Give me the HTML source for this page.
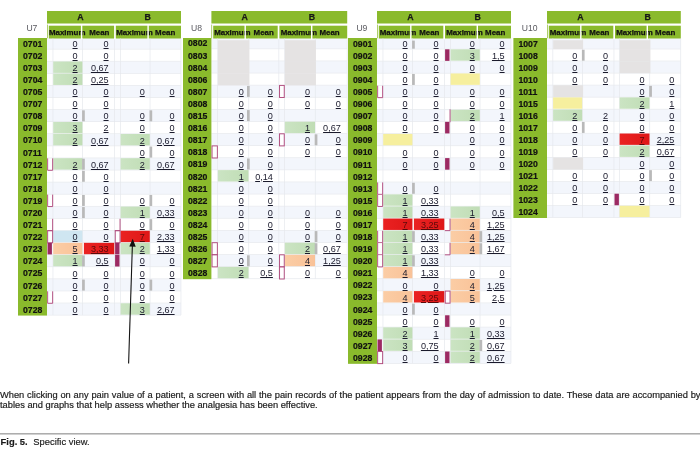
<!DOCTYPE html>
<html lang="en">
<head>
<meta charset="utf-8">
<title>Fig. 5. Specific view</title>
<style>
html,body{margin:0;padding:0;background:#fff;}
body{width:700px;height:449px;position:relative;overflow:hidden;font-family:"Liberation Sans",Arial,sans-serif;}
svg{position:absolute;left:0;top:0;filter:blur(0.3px);}
#fig,#cap,#lab{filter:blur(0.28px);}
#fig{position:absolute;left:0;top:0;width:700px;height:380px;}
#fig span{position:absolute;display:block;}
#fig .hd{-webkit-text-stroke:0.25px #111;font-weight:bold;font-size:8.8px;color:#1a1a1a;text-align:center;}
#fig .sh{-webkit-text-stroke:0.25px #111;font-weight:bold;font-size:7.9px;color:#111;white-space:nowrap;}
#fig .un{font-size:8.6px;color:#5a5a60;text-align:center;}
#fig .lb{-webkit-text-stroke:0.2px #111;font-weight:bold;font-size:8.7px;color:#111;white-space:nowrap;height:12.07px;line-height:12.67px;}
#fig .nm{font-size:9.1px;color:#1a1a2c;text-align:right;text-decoration:underline;text-decoration-thickness:0.85px;text-underline-offset:0.7px;height:12.07px;line-height:12.07px;white-space:nowrap;}
#fig .rd{color:#5a0a0a;}
#cap{-webkit-text-stroke:0.18px #1a1a1a;position:absolute;left:0;top:389.8px;width:700.5px;font-size:9.3px;line-height:10px;color:#1a1a1a;text-align:justify;}
#cap p{margin:0;}
#lab{-webkit-text-stroke:0.15px #1a1a1a;position:absolute;left:0.6px;top:436.2px;font-size:9.4px;line-height:11px;color:#1a1a1a;white-space:nowrap;}
#lab b{margin-right:3px;}
</style>
</head>
<body>
<svg width="700" height="449" viewBox="0 0 700 449">
<defs>
<linearGradient id="gg" x1="0" x2="1" y1="0" y2="0"><stop offset="0" stop-color="#cbe4c3"/><stop offset="1" stop-color="#c0ddb5"/></linearGradient>
<linearGradient id="gr" x1="0" x2="1" y1="0" y2="0"><stop offset="0" stop-color="#ea2222"/><stop offset="1" stop-color="#de1717"/></linearGradient>
<linearGradient id="go" x1="0" x2="1" y1="0" y2="0"><stop offset="0" stop-color="#fbcda5"/><stop offset="1" stop-color="#f9c298"/></linearGradient>
</defs>
<!-- U7 -->
<rect x="47.00" y="11.00" width="134.00" height="12.50" fill="#8aba2c"/>
<rect x="47.00" y="24.60" width="0.70" height="13.80" fill="#8aba2c"/>
<rect x="48.80" y="25.70" width="132.20" height="13.30" fill="#8aba2c"/>
<rect x="47.00" y="38.50" width="134.00" height="10.39" fill="#f3f6fc"/>
<rect x="47.00" y="61.58" width="134.00" height="11.49" fill="#f3f6fc"/>
<rect x="47.00" y="85.76" width="134.00" height="11.49" fill="#f3f6fc"/>
<rect x="47.00" y="109.94" width="134.00" height="11.49" fill="#f3f6fc"/>
<rect x="47.00" y="134.12" width="134.00" height="11.49" fill="#f3f6fc"/>
<rect x="47.00" y="158.30" width="134.00" height="11.49" fill="#f3f6fc"/>
<rect x="47.00" y="182.48" width="134.00" height="11.49" fill="#f3f6fc"/>
<rect x="47.00" y="206.66" width="134.00" height="11.49" fill="#f3f6fc"/>
<rect x="47.00" y="230.84" width="134.00" height="11.49" fill="#f3f6fc"/>
<rect x="47.00" y="255.02" width="134.00" height="11.49" fill="#f3f6fc"/>
<rect x="47.00" y="279.20" width="134.00" height="11.49" fill="#f3f6fc"/>
<rect x="47.00" y="303.38" width="134.00" height="11.49" fill="#f3f6fc"/>
<rect x="52.60" y="38.50" width="0.70" height="276.57" fill="#e5e8ed"/>
<rect x="82.30" y="38.50" width="0.70" height="276.57" fill="#e5e8ed"/>
<rect x="114.20" y="38.50" width="0.70" height="276.57" fill="#e5e8ed"/>
<rect x="120.00" y="38.50" width="0.70" height="276.57" fill="#e5e8ed"/>
<rect x="149.70" y="38.50" width="0.70" height="276.57" fill="#e5e8ed"/>
<rect x="180.60" y="38.50" width="0.70" height="276.57" fill="#e5e8ed"/>
<rect x="47.00" y="48.79" width="134.00" height="0.70" fill="#e5e8ed"/>
<rect x="47.00" y="60.88" width="134.00" height="0.70" fill="#e5e8ed"/>
<rect x="47.00" y="72.97" width="134.00" height="0.70" fill="#e5e8ed"/>
<rect x="47.00" y="85.06" width="134.00" height="0.70" fill="#e5e8ed"/>
<rect x="47.00" y="97.15" width="134.00" height="0.70" fill="#e5e8ed"/>
<rect x="47.00" y="109.24" width="134.00" height="0.70" fill="#e5e8ed"/>
<rect x="47.00" y="121.33" width="134.00" height="0.70" fill="#e5e8ed"/>
<rect x="47.00" y="133.42" width="134.00" height="0.70" fill="#e5e8ed"/>
<rect x="47.00" y="145.51" width="134.00" height="0.70" fill="#e5e8ed"/>
<rect x="47.00" y="157.60" width="134.00" height="0.70" fill="#e5e8ed"/>
<rect x="47.00" y="169.69" width="134.00" height="0.70" fill="#e5e8ed"/>
<rect x="47.00" y="181.78" width="134.00" height="0.70" fill="#e5e8ed"/>
<rect x="47.00" y="193.87" width="134.00" height="0.70" fill="#e5e8ed"/>
<rect x="47.00" y="205.96" width="134.00" height="0.70" fill="#e5e8ed"/>
<rect x="47.00" y="218.05" width="134.00" height="0.70" fill="#e5e8ed"/>
<rect x="47.00" y="230.14" width="134.00" height="0.70" fill="#e5e8ed"/>
<rect x="47.00" y="242.23" width="134.00" height="0.70" fill="#e5e8ed"/>
<rect x="47.00" y="254.32" width="134.00" height="0.70" fill="#e5e8ed"/>
<rect x="47.00" y="266.41" width="134.00" height="0.70" fill="#e5e8ed"/>
<rect x="47.00" y="278.50" width="134.00" height="0.70" fill="#e5e8ed"/>
<rect x="47.00" y="290.59" width="134.00" height="0.70" fill="#e5e8ed"/>
<rect x="47.00" y="302.68" width="134.00" height="0.70" fill="#e5e8ed"/>
<rect x="47.00" y="314.77" width="134.00" height="0.70" fill="#e5e8ed"/>
<rect x="18.00" y="38.00" width="29.00" height="277.57" fill="#8aba2c"/>
<rect x="53.20" y="61.48" width="29.20" height="11.39" fill="url(#gg)"/>
<rect x="53.20" y="73.57" width="29.20" height="11.39" fill="url(#gg)"/>
<rect x="82.10" y="110.34" width="2.70" height="10.99" fill="#b9b9b9"/>
<rect x="149.50" y="110.34" width="2.70" height="10.99" fill="#b9b9b9"/>
<rect x="53.20" y="121.93" width="29.20" height="11.39" fill="url(#gg)"/>
<rect x="53.20" y="134.02" width="29.20" height="11.39" fill="url(#gg)"/>
<rect x="120.60" y="134.02" width="29.20" height="11.39" fill="url(#gg)"/>
<rect x="149.50" y="146.61" width="2.70" height="10.99" fill="#b9b9b9"/>
<rect x="53.20" y="158.20" width="29.20" height="11.39" fill="url(#gg)"/>
<rect x="120.60" y="158.20" width="29.20" height="11.39" fill="url(#gg)"/>
<rect x="82.10" y="158.70" width="2.70" height="10.99" fill="#b9b9b9"/>
<rect x="47.70" y="158.70" width="4.90" height="11.09" fill="#fff"/>
<path d="M47.65,158.35 V170.29 H52.65 V158.35" stroke="#b04a7c" stroke-width="0.95" fill="none"/>
<rect x="82.10" y="170.79" width="2.70" height="10.99" fill="#b9b9b9"/>
<rect x="82.10" y="194.97" width="2.70" height="10.99" fill="#b9b9b9"/>
<rect x="149.50" y="194.97" width="2.70" height="10.99" fill="#b9b9b9"/>
<rect x="47.70" y="194.97" width="4.90" height="11.09" fill="#fff"/>
<path d="M47.65,194.62 V206.56 H52.65 V194.62" stroke="#b04a7c" stroke-width="0.95" fill="none"/>
<rect x="120.60" y="206.56" width="29.20" height="11.39" fill="url(#gg)"/>
<rect x="82.10" y="207.06" width="2.70" height="10.99" fill="#b9b9b9"/>
<rect x="149.50" y="219.15" width="2.70" height="10.99" fill="#b9b9b9"/>
<rect x="47.70" y="219.15" width="4.90" height="11.09" fill="#fff"/>
<path d="M52.65,218.80 V230.74 H47.20" stroke="#b04a7c" stroke-width="0.95" fill="none"/>
<rect x="115.30" y="219.15" width="4.70" height="11.09" fill="#fff"/>
<path d="M120.05,218.80 V230.74 H114.80" stroke="#b04a7c" stroke-width="0.95" fill="none"/>
<rect x="53.20" y="230.74" width="29.20" height="11.39" fill="#cfe6f1"/>
<rect x="120.60" y="230.74" width="29.20" height="11.39" fill="url(#gr)"/>
<rect x="47.70" y="231.24" width="4.90" height="11.09" fill="#fff"/>
<rect x="47.65" y="230.74" width="5.00" height="12.09" stroke="#b04a7c" stroke-width="0.95" fill="none"/>
<rect x="115.30" y="231.24" width="4.70" height="11.09" fill="#fff"/>
<rect x="115.25" y="230.74" width="4.80" height="12.09" stroke="#b04a7c" stroke-width="0.95" fill="none"/>
<rect x="53.20" y="242.83" width="29.20" height="11.39" fill="url(#go)"/>
<rect x="83.90" y="242.83" width="30.40" height="11.39" fill="url(#gr)"/>
<rect x="120.60" y="242.83" width="29.20" height="11.39" fill="url(#gg)"/>
<rect x="47.50" y="242.83" width="4.40" height="11.59" fill="#9c2a62"/>
<rect x="115.10" y="242.83" width="4.40" height="11.59" fill="#9c2a62"/>
<rect x="53.20" y="254.92" width="29.20" height="11.39" fill="url(#gg)"/>
<rect x="82.10" y="255.42" width="2.70" height="10.99" fill="#b9b9b9"/>
<rect x="115.10" y="254.92" width="4.40" height="11.59" fill="#9c2a62"/>
<rect x="82.10" y="279.60" width="2.70" height="10.99" fill="#b9b9b9"/>
<rect x="149.50" y="279.60" width="2.70" height="10.99" fill="#b9b9b9"/>
<rect x="47.70" y="291.69" width="4.90" height="11.09" fill="#fff"/>
<path d="M47.65,291.34 V303.28 H52.65 V291.34" stroke="#b04a7c" stroke-width="0.95" fill="none"/>
<rect x="120.60" y="303.28" width="29.20" height="11.39" fill="url(#gg)"/>
<!-- U8 -->
<rect x="211.40" y="11.00" width="135.80" height="12.50" fill="#8aba2c"/>
<rect x="211.40" y="24.60" width="0.70" height="13.80" fill="#8aba2c"/>
<rect x="213.20" y="25.70" width="134.00" height="13.30" fill="#8aba2c"/>
<rect x="211.40" y="38.50" width="135.80" height="10.10" fill="#f3f6fc"/>
<rect x="211.40" y="61.30" width="135.80" height="11.50" fill="#f3f6fc"/>
<rect x="211.40" y="85.50" width="135.80" height="11.50" fill="#f3f6fc"/>
<rect x="211.40" y="109.70" width="135.80" height="11.50" fill="#f3f6fc"/>
<rect x="211.40" y="133.90" width="135.80" height="11.50" fill="#f3f6fc"/>
<rect x="211.40" y="158.10" width="135.80" height="11.50" fill="#f3f6fc"/>
<rect x="211.40" y="182.30" width="135.80" height="11.50" fill="#f3f6fc"/>
<rect x="211.40" y="206.50" width="135.80" height="11.50" fill="#f3f6fc"/>
<rect x="211.40" y="230.70" width="135.80" height="11.50" fill="#f3f6fc"/>
<rect x="211.40" y="254.90" width="135.80" height="11.50" fill="#f3f6fc"/>
<rect x="217.30" y="38.50" width="0.70" height="240.20" fill="#e5e8ed"/>
<rect x="248.40" y="38.50" width="0.70" height="240.20" fill="#e5e8ed"/>
<rect x="278.50" y="38.50" width="0.70" height="240.20" fill="#e5e8ed"/>
<rect x="284.20" y="38.50" width="0.70" height="240.20" fill="#e5e8ed"/>
<rect x="314.90" y="38.50" width="0.70" height="240.20" fill="#e5e8ed"/>
<rect x="346.80" y="38.50" width="0.70" height="240.20" fill="#e5e8ed"/>
<rect x="211.40" y="48.50" width="135.80" height="0.70" fill="#e5e8ed"/>
<rect x="211.40" y="60.60" width="135.80" height="0.70" fill="#e5e8ed"/>
<rect x="211.40" y="72.70" width="135.80" height="0.70" fill="#e5e8ed"/>
<rect x="211.40" y="84.80" width="135.80" height="0.70" fill="#e5e8ed"/>
<rect x="211.40" y="96.90" width="135.80" height="0.70" fill="#e5e8ed"/>
<rect x="211.40" y="109.00" width="135.80" height="0.70" fill="#e5e8ed"/>
<rect x="211.40" y="121.10" width="135.80" height="0.70" fill="#e5e8ed"/>
<rect x="211.40" y="133.20" width="135.80" height="0.70" fill="#e5e8ed"/>
<rect x="211.40" y="145.30" width="135.80" height="0.70" fill="#e5e8ed"/>
<rect x="211.40" y="157.40" width="135.80" height="0.70" fill="#e5e8ed"/>
<rect x="211.40" y="169.50" width="135.80" height="0.70" fill="#e5e8ed"/>
<rect x="211.40" y="181.60" width="135.80" height="0.70" fill="#e5e8ed"/>
<rect x="211.40" y="193.70" width="135.80" height="0.70" fill="#e5e8ed"/>
<rect x="211.40" y="205.80" width="135.80" height="0.70" fill="#e5e8ed"/>
<rect x="211.40" y="217.90" width="135.80" height="0.70" fill="#e5e8ed"/>
<rect x="211.40" y="230.00" width="135.80" height="0.70" fill="#e5e8ed"/>
<rect x="211.40" y="242.10" width="135.80" height="0.70" fill="#e5e8ed"/>
<rect x="211.40" y="254.20" width="135.80" height="0.70" fill="#e5e8ed"/>
<rect x="211.40" y="266.30" width="135.80" height="0.70" fill="#e5e8ed"/>
<rect x="211.40" y="278.40" width="135.80" height="0.70" fill="#e5e8ed"/>
<rect x="183.00" y="38.00" width="28.40" height="241.20" fill="#8aba2c"/>
<rect x="218.00" y="40.20" width="31.40" height="8.80" fill="#e5e3e3"/>
<rect x="284.90" y="40.20" width="31.00" height="8.80" fill="#e5e3e3"/>
<rect x="218.00" y="49.00" width="31.40" height="12.10" fill="#e5e3e3"/>
<rect x="284.90" y="49.00" width="31.00" height="12.10" fill="#e5e3e3"/>
<rect x="218.00" y="61.10" width="31.40" height="12.10" fill="#e5e3e3"/>
<rect x="284.90" y="61.10" width="31.00" height="12.10" fill="#e5e3e3"/>
<rect x="218.00" y="73.20" width="31.40" height="12.10" fill="#e5e3e3"/>
<rect x="284.90" y="73.20" width="31.00" height="12.10" fill="#e5e3e3"/>
<rect x="247.00" y="85.90" width="2.70" height="11.00" fill="#b9b9b9"/>
<rect x="279.60" y="85.90" width="4.60" height="11.10" fill="#fff"/>
<rect x="279.55" y="85.40" width="4.70" height="12.10" stroke="#b04a7c" stroke-width="0.95" fill="none"/>
<rect x="247.00" y="110.10" width="2.70" height="11.00" fill="#b9b9b9"/>
<rect x="284.80" y="121.70" width="30.20" height="11.40" fill="url(#gg)"/>
<rect x="314.70" y="134.30" width="2.70" height="11.00" fill="#b9b9b9"/>
<rect x="279.60" y="134.30" width="4.60" height="11.10" fill="#fff"/>
<rect x="279.55" y="133.80" width="4.70" height="12.10" stroke="#b04a7c" stroke-width="0.95" fill="none"/>
<rect x="212.10" y="146.40" width="5.20" height="11.10" fill="#fff"/>
<rect x="212.05" y="145.90" width="5.30" height="12.10" stroke="#b04a7c" stroke-width="0.95" fill="none"/>
<rect x="247.00" y="158.50" width="2.70" height="11.00" fill="#b9b9b9"/>
<rect x="217.90" y="170.10" width="30.60" height="11.40" fill="url(#gg)"/>
<rect x="314.70" y="231.10" width="2.70" height="11.00" fill="#b9b9b9"/>
<rect x="284.80" y="242.70" width="30.20" height="11.40" fill="url(#gg)"/>
<rect x="314.70" y="243.20" width="2.70" height="11.00" fill="#b9b9b9"/>
<rect x="212.10" y="243.20" width="5.20" height="11.10" fill="#fff"/>
<rect x="212.05" y="242.70" width="5.30" height="12.10" stroke="#b04a7c" stroke-width="0.95" fill="none"/>
<rect x="284.80" y="254.80" width="30.20" height="11.40" fill="url(#go)"/>
<rect x="247.00" y="255.30" width="2.70" height="11.00" fill="#b9b9b9"/>
<rect x="212.10" y="255.30" width="5.20" height="11.10" fill="#fff"/>
<rect x="212.05" y="254.80" width="5.30" height="12.10" stroke="#b04a7c" stroke-width="0.95" fill="none"/>
<rect x="279.60" y="255.30" width="4.60" height="11.10" fill="#fff"/>
<rect x="279.55" y="254.80" width="4.70" height="12.10" stroke="#b04a7c" stroke-width="0.95" fill="none"/>
<rect x="217.90" y="266.90" width="30.60" height="11.40" fill="url(#gg)"/>
<rect x="279.60" y="267.40" width="4.60" height="11.10" fill="#fff"/>
<rect x="279.55" y="266.90" width="4.70" height="12.10" stroke="#b04a7c" stroke-width="0.95" fill="none"/>
<!-- U9 -->
<rect x="377.00" y="11.00" width="134.00" height="12.50" fill="#8aba2c"/>
<rect x="377.00" y="24.60" width="0.70" height="13.80" fill="#8aba2c"/>
<rect x="378.80" y="25.70" width="132.20" height="13.30" fill="#8aba2c"/>
<rect x="377.00" y="38.50" width="134.00" height="10.29" fill="#f3f6fc"/>
<rect x="377.00" y="61.48" width="134.00" height="11.49" fill="#f3f6fc"/>
<rect x="377.00" y="85.66" width="134.00" height="11.49" fill="#f3f6fc"/>
<rect x="377.00" y="109.84" width="134.00" height="11.49" fill="#f3f6fc"/>
<rect x="377.00" y="134.02" width="134.00" height="11.49" fill="#f3f6fc"/>
<rect x="377.00" y="158.20" width="134.00" height="11.49" fill="#f3f6fc"/>
<rect x="377.00" y="182.38" width="134.00" height="11.49" fill="#f3f6fc"/>
<rect x="377.00" y="206.56" width="134.00" height="11.49" fill="#f3f6fc"/>
<rect x="377.00" y="230.74" width="134.00" height="11.49" fill="#f3f6fc"/>
<rect x="377.00" y="254.92" width="134.00" height="11.49" fill="#f3f6fc"/>
<rect x="377.00" y="279.10" width="134.00" height="11.49" fill="#f3f6fc"/>
<rect x="377.00" y="303.28" width="134.00" height="11.49" fill="#f3f6fc"/>
<rect x="377.00" y="327.46" width="134.00" height="11.49" fill="#f3f6fc"/>
<rect x="377.00" y="351.64" width="134.00" height="11.49" fill="#f3f6fc"/>
<rect x="382.60" y="38.50" width="0.70" height="324.83" fill="#e5e8ed"/>
<rect x="412.30" y="38.50" width="0.70" height="324.83" fill="#e5e8ed"/>
<rect x="444.20" y="38.50" width="0.70" height="324.83" fill="#e5e8ed"/>
<rect x="450.00" y="38.50" width="0.70" height="324.83" fill="#e5e8ed"/>
<rect x="479.70" y="38.50" width="0.70" height="324.83" fill="#e5e8ed"/>
<rect x="510.60" y="38.50" width="0.70" height="324.83" fill="#e5e8ed"/>
<rect x="377.00" y="48.69" width="134.00" height="0.70" fill="#e5e8ed"/>
<rect x="377.00" y="60.78" width="134.00" height="0.70" fill="#e5e8ed"/>
<rect x="377.00" y="72.87" width="134.00" height="0.70" fill="#e5e8ed"/>
<rect x="377.00" y="84.96" width="134.00" height="0.70" fill="#e5e8ed"/>
<rect x="377.00" y="97.05" width="134.00" height="0.70" fill="#e5e8ed"/>
<rect x="377.00" y="109.14" width="134.00" height="0.70" fill="#e5e8ed"/>
<rect x="377.00" y="121.23" width="134.00" height="0.70" fill="#e5e8ed"/>
<rect x="377.00" y="133.32" width="134.00" height="0.70" fill="#e5e8ed"/>
<rect x="377.00" y="145.41" width="134.00" height="0.70" fill="#e5e8ed"/>
<rect x="377.00" y="157.50" width="134.00" height="0.70" fill="#e5e8ed"/>
<rect x="377.00" y="169.59" width="134.00" height="0.70" fill="#e5e8ed"/>
<rect x="377.00" y="181.68" width="134.00" height="0.70" fill="#e5e8ed"/>
<rect x="377.00" y="193.77" width="134.00" height="0.70" fill="#e5e8ed"/>
<rect x="377.00" y="205.86" width="134.00" height="0.70" fill="#e5e8ed"/>
<rect x="377.00" y="217.95" width="134.00" height="0.70" fill="#e5e8ed"/>
<rect x="377.00" y="230.04" width="134.00" height="0.70" fill="#e5e8ed"/>
<rect x="377.00" y="242.13" width="134.00" height="0.70" fill="#e5e8ed"/>
<rect x="377.00" y="254.22" width="134.00" height="0.70" fill="#e5e8ed"/>
<rect x="377.00" y="266.31" width="134.00" height="0.70" fill="#e5e8ed"/>
<rect x="377.00" y="278.40" width="134.00" height="0.70" fill="#e5e8ed"/>
<rect x="377.00" y="290.49" width="134.00" height="0.70" fill="#e5e8ed"/>
<rect x="377.00" y="302.58" width="134.00" height="0.70" fill="#e5e8ed"/>
<rect x="377.00" y="314.67" width="134.00" height="0.70" fill="#e5e8ed"/>
<rect x="377.00" y="326.76" width="134.00" height="0.70" fill="#e5e8ed"/>
<rect x="377.00" y="338.85" width="134.00" height="0.70" fill="#e5e8ed"/>
<rect x="377.00" y="350.94" width="134.00" height="0.70" fill="#e5e8ed"/>
<rect x="377.00" y="363.03" width="134.00" height="0.70" fill="#e5e8ed"/>
<rect x="348.00" y="38.00" width="29.00" height="325.83" fill="#8aba2c"/>
<rect x="412.10" y="40.60" width="2.70" height="8.09" fill="#b9b9b9"/>
<rect x="450.60" y="49.29" width="29.20" height="11.39" fill="url(#gg)"/>
<rect x="445.10" y="49.29" width="4.40" height="11.59" fill="#9c2a62"/>
<rect x="450.60" y="73.47" width="29.20" height="11.39" fill="#f6ef9e"/>
<rect x="412.10" y="73.97" width="2.70" height="10.99" fill="#b9b9b9"/>
<rect x="377.70" y="86.06" width="4.90" height="11.09" fill="#fff"/>
<path d="M377.65,85.71 V97.65 H382.65 V85.71" stroke="#b04a7c" stroke-width="0.95" fill="none"/>
<rect x="450.60" y="109.74" width="29.20" height="11.39" fill="url(#gg)"/>
<rect x="445.30" y="110.24" width="4.70" height="11.09" fill="#fff"/>
<path d="M450.05,109.29 V122.28" stroke="#b04a7c" stroke-width="0.95" fill="none"/>
<rect x="445.10" y="121.83" width="4.40" height="11.59" fill="#9c2a62"/>
<rect x="383.20" y="133.92" width="29.20" height="11.39" fill="#f6ef9e"/>
<rect x="445.10" y="158.10" width="4.40" height="11.59" fill="#9c2a62"/>
<rect x="412.10" y="182.78" width="2.70" height="10.99" fill="#b9b9b9"/>
<rect x="377.70" y="182.78" width="4.90" height="11.09" fill="#fff"/>
<path d="M377.65,182.43 V194.37 H382.65 V182.43" stroke="#b04a7c" stroke-width="0.95" fill="none"/>
<rect x="383.20" y="194.37" width="29.20" height="11.39" fill="url(#gg)"/>
<rect x="377.70" y="194.87" width="4.90" height="11.09" fill="#fff"/>
<path d="M377.65,194.52 V206.46 H382.65 V194.52" stroke="#b04a7c" stroke-width="0.95" fill="none"/>
<rect x="383.20" y="206.46" width="29.20" height="11.39" fill="url(#gg)"/>
<rect x="450.60" y="206.46" width="29.20" height="11.39" fill="url(#gg)"/>
<rect x="383.20" y="218.55" width="29.20" height="11.39" fill="url(#gr)"/>
<rect x="413.90" y="218.55" width="30.40" height="11.39" fill="url(#gr)"/>
<rect x="450.60" y="218.55" width="29.20" height="11.39" fill="url(#go)"/>
<rect x="445.30" y="219.05" width="4.70" height="11.09" fill="#fff"/>
<path d="M450.05,218.70 V230.64 H444.80" stroke="#b04a7c" stroke-width="0.95" fill="none"/>
<rect x="383.20" y="230.64" width="29.20" height="11.39" fill="url(#gg)"/>
<rect x="450.60" y="230.64" width="29.20" height="11.39" fill="url(#go)"/>
<rect x="412.10" y="231.14" width="2.70" height="10.99" fill="#b9b9b9"/>
<rect x="479.50" y="231.14" width="2.70" height="10.99" fill="#b9b9b9"/>
<rect x="377.70" y="231.14" width="4.90" height="11.09" fill="#fff"/>
<path d="M377.65,230.79 V242.73 H382.65 V230.79" stroke="#b04a7c" stroke-width="0.95" fill="none"/>
<rect x="383.20" y="242.73" width="29.20" height="11.39" fill="url(#gg)"/>
<rect x="450.60" y="242.73" width="29.20" height="11.39" fill="url(#go)"/>
<rect x="479.50" y="243.23" width="2.70" height="10.99" fill="#b9b9b9"/>
<rect x="377.70" y="243.23" width="4.90" height="11.09" fill="#fff"/>
<path d="M377.65,242.88 V254.82 H382.65 V242.88" stroke="#b04a7c" stroke-width="0.95" fill="none"/>
<rect x="445.30" y="243.23" width="4.70" height="11.09" fill="#fff"/>
<path d="M450.05,242.88 V254.82 H444.80" stroke="#b04a7c" stroke-width="0.95" fill="none"/>
<rect x="383.20" y="254.82" width="29.20" height="11.39" fill="url(#gg)"/>
<rect x="412.10" y="255.32" width="2.70" height="10.99" fill="#b9b9b9"/>
<rect x="377.70" y="255.32" width="4.90" height="11.09" fill="#fff"/>
<path d="M377.65,254.97 V266.91 H382.65 V254.97" stroke="#b04a7c" stroke-width="0.95" fill="none"/>
<rect x="383.20" y="266.91" width="29.20" height="11.39" fill="url(#go)"/>
<rect x="450.60" y="279.00" width="29.20" height="11.39" fill="url(#go)"/>
<rect x="383.20" y="291.09" width="29.20" height="11.39" fill="url(#go)"/>
<rect x="413.90" y="291.09" width="30.40" height="11.39" fill="url(#gr)"/>
<rect x="450.60" y="291.09" width="29.20" height="11.39" fill="url(#go)"/>
<rect x="445.30" y="291.59" width="4.70" height="11.09" fill="#fff"/>
<rect x="445.25" y="291.09" width="4.80" height="12.09" stroke="#b04a7c" stroke-width="0.95" fill="none"/>
<rect x="412.10" y="303.68" width="2.70" height="10.99" fill="#b9b9b9"/>
<rect x="445.10" y="315.27" width="4.40" height="11.59" fill="#9c2a62"/>
<rect x="383.20" y="327.36" width="29.20" height="11.39" fill="url(#gg)"/>
<rect x="450.60" y="327.36" width="29.20" height="11.39" fill="url(#gg)"/>
<rect x="383.20" y="339.45" width="29.20" height="11.39" fill="url(#gg)"/>
<rect x="450.60" y="339.45" width="29.20" height="11.39" fill="url(#gg)"/>
<rect x="479.50" y="339.95" width="2.70" height="10.99" fill="#b9b9b9"/>
<rect x="377.50" y="339.45" width="4.40" height="11.59" fill="#9c2a62"/>
<rect x="450.60" y="351.54" width="29.20" height="11.39" fill="url(#gg)"/>
<rect x="377.70" y="352.04" width="4.90" height="11.09" fill="#fff"/>
<rect x="377.65" y="351.54" width="5.00" height="12.09" stroke="#b04a7c" stroke-width="0.95" fill="none"/>
<rect x="445.10" y="351.54" width="4.40" height="11.59" fill="#9c2a62"/>
<!-- U10 -->
<rect x="547.00" y="11.00" width="133.80" height="12.50" fill="#8aba2c"/>
<rect x="547.00" y="24.60" width="0.70" height="13.80" fill="#8aba2c"/>
<rect x="548.80" y="25.70" width="132.00" height="13.30" fill="#8aba2c"/>
<rect x="547.00" y="38.50" width="133.80" height="10.24" fill="#f3f6fc"/>
<rect x="547.00" y="61.38" width="133.80" height="11.44" fill="#f3f6fc"/>
<rect x="547.00" y="85.46" width="133.80" height="11.44" fill="#f3f6fc"/>
<rect x="547.00" y="109.54" width="133.80" height="11.44" fill="#f3f6fc"/>
<rect x="547.00" y="133.62" width="133.80" height="11.44" fill="#f3f6fc"/>
<rect x="547.00" y="157.70" width="133.80" height="11.44" fill="#f3f6fc"/>
<rect x="547.00" y="181.78" width="133.80" height="11.44" fill="#f3f6fc"/>
<rect x="547.00" y="205.86" width="133.80" height="11.44" fill="#f3f6fc"/>
<rect x="552.50" y="38.50" width="0.70" height="179.00" fill="#e5e8ed"/>
<rect x="582.10" y="38.50" width="0.70" height="179.00" fill="#e5e8ed"/>
<rect x="613.60" y="38.50" width="0.70" height="179.00" fill="#e5e8ed"/>
<rect x="619.00" y="38.50" width="0.70" height="179.00" fill="#e5e8ed"/>
<rect x="649.40" y="38.50" width="0.70" height="179.00" fill="#e5e8ed"/>
<rect x="680.40" y="38.50" width="0.70" height="179.00" fill="#e5e8ed"/>
<rect x="547.00" y="48.64" width="133.80" height="0.70" fill="#e5e8ed"/>
<rect x="547.00" y="60.68" width="133.80" height="0.70" fill="#e5e8ed"/>
<rect x="547.00" y="72.72" width="133.80" height="0.70" fill="#e5e8ed"/>
<rect x="547.00" y="84.76" width="133.80" height="0.70" fill="#e5e8ed"/>
<rect x="547.00" y="96.80" width="133.80" height="0.70" fill="#e5e8ed"/>
<rect x="547.00" y="108.84" width="133.80" height="0.70" fill="#e5e8ed"/>
<rect x="547.00" y="120.88" width="133.80" height="0.70" fill="#e5e8ed"/>
<rect x="547.00" y="132.92" width="133.80" height="0.70" fill="#e5e8ed"/>
<rect x="547.00" y="144.96" width="133.80" height="0.70" fill="#e5e8ed"/>
<rect x="547.00" y="157.00" width="133.80" height="0.70" fill="#e5e8ed"/>
<rect x="547.00" y="169.04" width="133.80" height="0.70" fill="#e5e8ed"/>
<rect x="547.00" y="181.08" width="133.80" height="0.70" fill="#e5e8ed"/>
<rect x="547.00" y="193.12" width="133.80" height="0.70" fill="#e5e8ed"/>
<rect x="547.00" y="205.16" width="133.80" height="0.70" fill="#e5e8ed"/>
<rect x="547.00" y="217.20" width="133.80" height="0.70" fill="#e5e8ed"/>
<rect x="513.40" y="38.00" width="33.60" height="180.00" fill="#8aba2c"/>
<rect x="553.20" y="40.20" width="29.90" height="8.94" fill="#e5e3e3"/>
<rect x="619.70" y="40.20" width="30.70" height="8.94" fill="#e5e3e3"/>
<rect x="619.70" y="49.14" width="30.70" height="12.04" fill="#e5e3e3"/>
<rect x="581.90" y="49.74" width="2.70" height="10.94" fill="#b9b9b9"/>
<rect x="619.70" y="61.18" width="30.70" height="12.04" fill="#e5e3e3"/>
<rect x="553.20" y="85.26" width="29.90" height="12.04" fill="#e5e3e3"/>
<rect x="649.20" y="85.86" width="2.70" height="10.94" fill="#b9b9b9"/>
<rect x="553.10" y="97.40" width="29.10" height="11.34" fill="#f6ef9e"/>
<rect x="619.60" y="97.40" width="29.90" height="11.34" fill="url(#gg)"/>
<rect x="553.10" y="109.44" width="29.10" height="11.34" fill="url(#gg)"/>
<rect x="581.90" y="121.98" width="2.70" height="10.94" fill="#b9b9b9"/>
<rect x="619.60" y="133.52" width="29.90" height="11.34" fill="url(#gr)"/>
<rect x="619.60" y="145.56" width="29.90" height="11.34" fill="url(#gg)"/>
<rect x="553.20" y="157.50" width="29.90" height="12.04" fill="#e5e3e3"/>
<rect x="649.20" y="170.14" width="2.70" height="10.94" fill="#b9b9b9"/>
<rect x="614.50" y="193.72" width="4.40" height="11.54" fill="#9c2a62"/>
<rect x="619.60" y="205.76" width="29.90" height="11.34" fill="#f6ef9e"/>
</svg>
<div id="fig">
<span class="hd" style="left:70.40px;top:11.4px;width:20px;height:12px;line-height:12.8px">A</span>
<span class="hd" style="left:137.60px;top:11.4px;width:20px;height:12px;line-height:12.8px">B</span>
<span class="sh" style="left:49.00px;top:25.4px;height:13px;line-height:15.6px">Maximum</span>
<span class="sh" style="left:84.30px;top:25.4px;width:30px;height:13px;line-height:15.6px;text-align:center">Mean</span>
<span class="sh" style="left:116.30px;top:25.4px;height:13px;line-height:15.6px">Maximum</span>
<span class="sh" style="left:150.20px;top:25.4px;width:30px;height:13px;line-height:15.6px;text-align:center">Mean</span>
<span class="un" style="left:17.40px;top:20.5px;width:29.00px;height:14px;line-height:14px">U7</span>
<span class="lb" style="left:23.00px;top:37.70px">0701</span>
<span class="nm" style="left:53.00px;top:37.80px;width:24.60px">0</span>
<span class="nm" style="left:82.70px;top:37.80px;width:25.90px">0</span>
<span class="lb" style="left:23.00px;top:49.79px">0702</span>
<span class="nm" style="left:53.00px;top:49.89px;width:24.60px">0</span>
<span class="nm" style="left:82.70px;top:49.89px;width:25.90px">0</span>
<span class="lb" style="left:23.00px;top:61.88px">0703</span>
<span class="nm" style="left:53.00px;top:61.98px;width:24.60px">2</span>
<span class="nm" style="left:82.70px;top:61.98px;width:25.90px">0,67</span>
<span class="lb" style="left:23.00px;top:73.97px">0704</span>
<span class="nm" style="left:53.00px;top:74.07px;width:24.60px">2</span>
<span class="nm" style="left:82.70px;top:74.07px;width:25.90px">0,25</span>
<span class="lb" style="left:23.00px;top:86.06px">0705</span>
<span class="nm" style="left:53.00px;top:86.16px;width:24.60px">0</span>
<span class="nm" style="left:82.70px;top:86.16px;width:25.90px">0</span>
<span class="nm" style="left:120.40px;top:86.16px;width:24.40px">0</span>
<span class="nm" style="left:150.10px;top:86.16px;width:24.50px">0</span>
<span class="lb" style="left:23.00px;top:98.15px">0707</span>
<span class="nm" style="left:53.00px;top:98.25px;width:24.60px">0</span>
<span class="nm" style="left:82.70px;top:98.25px;width:25.90px">0</span>
<span class="lb" style="left:23.00px;top:110.24px">0708</span>
<span class="nm" style="left:53.00px;top:110.34px;width:24.60px">0</span>
<span class="nm" style="left:82.70px;top:110.34px;width:25.90px">0</span>
<span class="nm" style="left:120.40px;top:110.34px;width:24.40px">0</span>
<span class="nm" style="left:150.10px;top:110.34px;width:24.50px">0</span>
<span class="lb" style="left:23.00px;top:122.33px">0709</span>
<span class="nm" style="left:53.00px;top:122.43px;width:24.60px">3</span>
<span class="nm" style="left:82.70px;top:122.43px;width:25.90px">2</span>
<span class="nm" style="left:120.40px;top:122.43px;width:24.40px">0</span>
<span class="nm" style="left:150.10px;top:122.43px;width:24.50px">0</span>
<span class="lb" style="left:23.00px;top:134.42px">0710</span>
<span class="nm" style="left:53.00px;top:134.52px;width:24.60px">2</span>
<span class="nm" style="left:82.70px;top:134.52px;width:25.90px">0,67</span>
<span class="nm" style="left:120.40px;top:134.52px;width:24.40px">2</span>
<span class="nm" style="left:150.10px;top:134.52px;width:24.50px">0,67</span>
<span class="lb" style="left:23.00px;top:146.51px">0711</span>
<span class="nm" style="left:120.40px;top:146.61px;width:24.40px">0</span>
<span class="nm" style="left:150.10px;top:146.61px;width:24.50px">0</span>
<span class="lb" style="left:23.00px;top:158.60px">0712</span>
<span class="nm" style="left:53.00px;top:158.70px;width:24.60px">2</span>
<span class="nm" style="left:82.70px;top:158.70px;width:25.90px">0,67</span>
<span class="nm" style="left:120.40px;top:158.70px;width:24.40px">2</span>
<span class="nm" style="left:150.10px;top:158.70px;width:24.50px">0,67</span>
<span class="lb" style="left:23.00px;top:170.69px">0717</span>
<span class="nm" style="left:53.00px;top:170.79px;width:24.60px">0</span>
<span class="nm" style="left:82.70px;top:170.79px;width:25.90px">0</span>
<span class="lb" style="left:23.00px;top:182.78px">0718</span>
<span class="nm" style="left:53.00px;top:182.88px;width:24.60px">0</span>
<span class="nm" style="left:82.70px;top:182.88px;width:25.90px">0</span>
<span class="lb" style="left:23.00px;top:194.87px">0719</span>
<span class="nm" style="left:53.00px;top:194.97px;width:24.60px">0</span>
<span class="nm" style="left:82.70px;top:194.97px;width:25.90px">0</span>
<span class="nm" style="left:120.40px;top:194.97px;width:24.40px">0</span>
<span class="nm" style="left:150.10px;top:194.97px;width:24.50px">0</span>
<span class="lb" style="left:23.00px;top:206.96px">0720</span>
<span class="nm" style="left:53.00px;top:207.06px;width:24.60px">0</span>
<span class="nm" style="left:82.70px;top:207.06px;width:25.90px">0</span>
<span class="nm" style="left:120.40px;top:207.06px;width:24.40px">1</span>
<span class="nm" style="left:150.10px;top:207.06px;width:24.50px">0,33</span>
<span class="lb" style="left:23.00px;top:219.05px">0721</span>
<span class="nm" style="left:53.00px;top:219.15px;width:24.60px">0</span>
<span class="nm" style="left:82.70px;top:219.15px;width:25.90px">0</span>
<span class="nm" style="left:120.40px;top:219.15px;width:24.40px">0</span>
<span class="nm" style="left:150.10px;top:219.15px;width:24.50px">0</span>
<span class="lb" style="left:23.00px;top:231.14px">0722</span>
<span class="nm" style="left:53.00px;top:231.24px;width:24.60px">0</span>
<span class="nm" style="left:82.70px;top:231.24px;width:25.90px">0</span>
<span class="nm rd" style="left:120.40px;top:231.24px;width:24.40px">7</span>
<span class="nm" style="left:150.10px;top:231.24px;width:24.50px">2,33</span>
<span class="lb" style="left:23.00px;top:243.23px">0723</span>
<span class="nm" style="left:53.00px;top:243.33px;width:24.60px">5</span>
<span class="nm rd" style="left:82.70px;top:243.33px;width:25.90px">3,33</span>
<span class="nm" style="left:120.40px;top:243.33px;width:24.40px">2</span>
<span class="nm" style="left:150.10px;top:243.33px;width:24.50px">1,33</span>
<span class="lb" style="left:23.00px;top:255.32px">0724</span>
<span class="nm" style="left:53.00px;top:255.42px;width:24.60px">1</span>
<span class="nm" style="left:82.70px;top:255.42px;width:25.90px">0,5</span>
<span class="nm" style="left:120.40px;top:255.42px;width:24.40px">0</span>
<span class="nm" style="left:150.10px;top:255.42px;width:24.50px">0</span>
<span class="lb" style="left:23.00px;top:267.41px">0725</span>
<span class="nm" style="left:53.00px;top:267.51px;width:24.60px">0</span>
<span class="nm" style="left:82.70px;top:267.51px;width:25.90px">0</span>
<span class="nm" style="left:120.40px;top:267.51px;width:24.40px">0</span>
<span class="nm" style="left:150.10px;top:267.51px;width:24.50px">0</span>
<span class="lb" style="left:23.00px;top:279.50px">0726</span>
<span class="nm" style="left:53.00px;top:279.60px;width:24.60px">0</span>
<span class="nm" style="left:82.70px;top:279.60px;width:25.90px">0</span>
<span class="nm" style="left:120.40px;top:279.60px;width:24.40px">0</span>
<span class="nm" style="left:150.10px;top:279.60px;width:24.50px">0</span>
<span class="lb" style="left:23.00px;top:291.59px">0727</span>
<span class="nm" style="left:53.00px;top:291.69px;width:24.60px">0</span>
<span class="nm" style="left:82.70px;top:291.69px;width:25.90px">0</span>
<span class="nm" style="left:120.40px;top:291.69px;width:24.40px">0</span>
<span class="nm" style="left:150.10px;top:291.69px;width:24.50px">0</span>
<span class="lb" style="left:23.00px;top:303.68px">0728</span>
<span class="nm" style="left:53.00px;top:303.78px;width:24.60px">0</span>
<span class="nm" style="left:82.70px;top:303.78px;width:25.90px">0</span>
<span class="nm" style="left:120.40px;top:303.78px;width:24.40px">3</span>
<span class="nm" style="left:150.10px;top:303.78px;width:24.50px">2,67</span>
<span class="hd" style="left:234.80px;top:11.4px;width:20px;height:12px;line-height:12.8px">A</span>
<span class="hd" style="left:302.00px;top:11.4px;width:20px;height:12px;line-height:12.8px">B</span>
<span class="sh" style="left:214.20px;top:25.4px;height:13px;line-height:15.6px">Maximum</span>
<span class="sh" style="left:248.70px;top:25.4px;width:30px;height:13px;line-height:15.6px;text-align:center">Mean</span>
<span class="sh" style="left:280.70px;top:25.4px;height:13px;line-height:15.6px">Maximum</span>
<span class="sh" style="left:314.60px;top:25.4px;width:30px;height:13px;line-height:15.6px;text-align:center">Mean</span>
<span class="un" style="left:182.40px;top:20.5px;width:28.40px;height:14px;line-height:14px">U8</span>
<span class="lb" style="left:188.00px;top:37.40px">0802</span>
<span class="lb" style="left:188.00px;top:49.50px">0803</span>
<span class="lb" style="left:188.00px;top:61.60px">0804</span>
<span class="lb" style="left:188.00px;top:73.70px">0806</span>
<span class="lb" style="left:188.00px;top:85.80px">0807</span>
<span class="nm" style="left:217.70px;top:85.90px;width:26.00px">0</span>
<span class="nm" style="left:248.80px;top:85.90px;width:24.10px">0</span>
<span class="nm" style="left:284.60px;top:85.90px;width:25.40px">0</span>
<span class="nm" style="left:315.30px;top:85.90px;width:25.50px">0</span>
<span class="lb" style="left:188.00px;top:97.90px">0808</span>
<span class="nm" style="left:217.70px;top:98.00px;width:26.00px">0</span>
<span class="nm" style="left:248.80px;top:98.00px;width:24.10px">0</span>
<span class="nm" style="left:284.60px;top:98.00px;width:25.40px">0</span>
<span class="nm" style="left:315.30px;top:98.00px;width:25.50px">0</span>
<span class="lb" style="left:188.00px;top:110.00px">0815</span>
<span class="nm" style="left:217.70px;top:110.10px;width:26.00px">0</span>
<span class="nm" style="left:248.80px;top:110.10px;width:24.10px">0</span>
<span class="lb" style="left:188.00px;top:122.10px">0816</span>
<span class="nm" style="left:217.70px;top:122.20px;width:26.00px">0</span>
<span class="nm" style="left:248.80px;top:122.20px;width:24.10px">0</span>
<span class="nm" style="left:284.60px;top:122.20px;width:25.40px">1</span>
<span class="nm" style="left:315.30px;top:122.20px;width:25.50px">0,67</span>
<span class="lb" style="left:188.00px;top:134.20px">0817</span>
<span class="nm" style="left:217.70px;top:134.30px;width:26.00px">0</span>
<span class="nm" style="left:248.80px;top:134.30px;width:24.10px">0</span>
<span class="nm" style="left:284.60px;top:134.30px;width:25.40px">0</span>
<span class="nm" style="left:315.30px;top:134.30px;width:25.50px">0</span>
<span class="lb" style="left:188.00px;top:146.30px">0818</span>
<span class="nm" style="left:217.70px;top:146.40px;width:26.00px">0</span>
<span class="nm" style="left:248.80px;top:146.40px;width:24.10px">0</span>
<span class="nm" style="left:284.60px;top:146.40px;width:25.40px">0</span>
<span class="nm" style="left:315.30px;top:146.40px;width:25.50px">0</span>
<span class="lb" style="left:188.00px;top:158.40px">0819</span>
<span class="nm" style="left:217.70px;top:158.50px;width:26.00px">0</span>
<span class="nm" style="left:248.80px;top:158.50px;width:24.10px">0</span>
<span class="lb" style="left:188.00px;top:170.50px">0820</span>
<span class="nm" style="left:217.70px;top:170.60px;width:26.00px">1</span>
<span class="nm" style="left:248.80px;top:170.60px;width:24.10px">0,14</span>
<span class="lb" style="left:188.00px;top:182.60px">0821</span>
<span class="nm" style="left:217.70px;top:182.70px;width:26.00px">0</span>
<span class="nm" style="left:248.80px;top:182.70px;width:24.10px">0</span>
<span class="lb" style="left:188.00px;top:194.70px">0822</span>
<span class="nm" style="left:217.70px;top:194.80px;width:26.00px">0</span>
<span class="nm" style="left:248.80px;top:194.80px;width:24.10px">0</span>
<span class="lb" style="left:188.00px;top:206.80px">0823</span>
<span class="nm" style="left:217.70px;top:206.90px;width:26.00px">0</span>
<span class="nm" style="left:248.80px;top:206.90px;width:24.10px">0</span>
<span class="nm" style="left:284.60px;top:206.90px;width:25.40px">0</span>
<span class="nm" style="left:315.30px;top:206.90px;width:25.50px">0</span>
<span class="lb" style="left:188.00px;top:218.90px">0824</span>
<span class="nm" style="left:217.70px;top:219.00px;width:26.00px">0</span>
<span class="nm" style="left:248.80px;top:219.00px;width:24.10px">0</span>
<span class="nm" style="left:284.60px;top:219.00px;width:25.40px">0</span>
<span class="nm" style="left:315.30px;top:219.00px;width:25.50px">0</span>
<span class="lb" style="left:188.00px;top:231.00px">0825</span>
<span class="nm" style="left:217.70px;top:231.10px;width:26.00px">0</span>
<span class="nm" style="left:248.80px;top:231.10px;width:24.10px">0</span>
<span class="nm" style="left:284.60px;top:231.10px;width:25.40px">0</span>
<span class="nm" style="left:315.30px;top:231.10px;width:25.50px">0</span>
<span class="lb" style="left:188.00px;top:243.10px">0826</span>
<span class="nm" style="left:217.70px;top:243.20px;width:26.00px">0</span>
<span class="nm" style="left:248.80px;top:243.20px;width:24.10px">0</span>
<span class="nm" style="left:284.60px;top:243.20px;width:25.40px">2</span>
<span class="nm" style="left:315.30px;top:243.20px;width:25.50px">0,67</span>
<span class="lb" style="left:188.00px;top:255.20px">0827</span>
<span class="nm" style="left:217.70px;top:255.30px;width:26.00px">0</span>
<span class="nm" style="left:248.80px;top:255.30px;width:24.10px">0</span>
<span class="nm" style="left:284.60px;top:255.30px;width:25.40px">4</span>
<span class="nm" style="left:315.30px;top:255.30px;width:25.50px">1,25</span>
<span class="lb" style="left:188.00px;top:267.30px">0828</span>
<span class="nm" style="left:217.70px;top:267.40px;width:26.00px">2</span>
<span class="nm" style="left:248.80px;top:267.40px;width:24.10px">0,5</span>
<span class="nm" style="left:284.60px;top:267.40px;width:25.40px">0</span>
<span class="nm" style="left:315.30px;top:267.40px;width:25.50px">0</span>
<span class="hd" style="left:400.40px;top:11.4px;width:20px;height:12px;line-height:12.8px">A</span>
<span class="hd" style="left:467.60px;top:11.4px;width:20px;height:12px;line-height:12.8px">B</span>
<span class="sh" style="left:379.80px;top:25.4px;height:13px;line-height:15.6px">Maximum</span>
<span class="sh" style="left:414.30px;top:25.4px;width:30px;height:13px;line-height:15.6px;text-align:center">Mean</span>
<span class="sh" style="left:446.30px;top:25.4px;height:13px;line-height:15.6px">Maximum</span>
<span class="sh" style="left:480.20px;top:25.4px;width:30px;height:13px;line-height:15.6px;text-align:center">Mean</span>
<span class="un" style="left:347.40px;top:20.5px;width:29.00px;height:14px;line-height:14px">U9</span>
<span class="lb" style="left:353.00px;top:37.60px">0901</span>
<span class="nm" style="left:383.00px;top:37.70px;width:24.60px">0</span>
<span class="nm" style="left:412.70px;top:37.70px;width:25.90px">0</span>
<span class="nm" style="left:450.40px;top:37.70px;width:24.40px">0</span>
<span class="nm" style="left:480.10px;top:37.70px;width:24.50px">0</span>
<span class="lb" style="left:353.00px;top:49.69px">0902</span>
<span class="nm" style="left:383.00px;top:49.79px;width:24.60px">0</span>
<span class="nm" style="left:412.70px;top:49.79px;width:25.90px">0</span>
<span class="nm" style="left:450.40px;top:49.79px;width:24.40px">3</span>
<span class="nm" style="left:480.10px;top:49.79px;width:24.50px">1,5</span>
<span class="lb" style="left:353.00px;top:61.78px">0903</span>
<span class="nm" style="left:383.00px;top:61.88px;width:24.60px">0</span>
<span class="nm" style="left:412.70px;top:61.88px;width:25.90px">0</span>
<span class="nm" style="left:450.40px;top:61.88px;width:24.40px">0</span>
<span class="nm" style="left:480.10px;top:61.88px;width:24.50px">0</span>
<span class="lb" style="left:353.00px;top:73.87px">0904</span>
<span class="nm" style="left:383.00px;top:73.97px;width:24.60px">0</span>
<span class="nm" style="left:412.70px;top:73.97px;width:25.90px">0</span>
<span class="lb" style="left:353.00px;top:85.96px">0905</span>
<span class="nm" style="left:383.00px;top:86.06px;width:24.60px">0</span>
<span class="nm" style="left:412.70px;top:86.06px;width:25.90px">0</span>
<span class="nm" style="left:450.40px;top:86.06px;width:24.40px">0</span>
<span class="nm" style="left:480.10px;top:86.06px;width:24.50px">0</span>
<span class="lb" style="left:353.00px;top:98.05px">0906</span>
<span class="nm" style="left:383.00px;top:98.15px;width:24.60px">0</span>
<span class="nm" style="left:412.70px;top:98.15px;width:25.90px">0</span>
<span class="nm" style="left:450.40px;top:98.15px;width:24.40px">0</span>
<span class="nm" style="left:480.10px;top:98.15px;width:24.50px">0</span>
<span class="lb" style="left:353.00px;top:110.14px">0907</span>
<span class="nm" style="left:383.00px;top:110.24px;width:24.60px">0</span>
<span class="nm" style="left:412.70px;top:110.24px;width:25.90px">0</span>
<span class="nm" style="left:450.40px;top:110.24px;width:24.40px">2</span>
<span class="nm" style="left:480.10px;top:110.24px;width:24.50px">1</span>
<span class="lb" style="left:353.00px;top:122.23px">0908</span>
<span class="nm" style="left:383.00px;top:122.33px;width:24.60px">0</span>
<span class="nm" style="left:412.70px;top:122.33px;width:25.90px">0</span>
<span class="nm" style="left:450.40px;top:122.33px;width:24.40px">0</span>
<span class="nm" style="left:480.10px;top:122.33px;width:24.50px">0</span>
<span class="lb" style="left:353.00px;top:134.32px">0909</span>
<span class="nm" style="left:450.40px;top:134.42px;width:24.40px">0</span>
<span class="nm" style="left:480.10px;top:134.42px;width:24.50px">0</span>
<span class="lb" style="left:353.00px;top:146.41px">0910</span>
<span class="nm" style="left:383.00px;top:146.51px;width:24.60px">0</span>
<span class="nm" style="left:412.70px;top:146.51px;width:25.90px">0</span>
<span class="nm" style="left:450.40px;top:146.51px;width:24.40px">0</span>
<span class="nm" style="left:480.10px;top:146.51px;width:24.50px">0</span>
<span class="lb" style="left:353.00px;top:158.50px">0911</span>
<span class="nm" style="left:383.00px;top:158.60px;width:24.60px">0</span>
<span class="nm" style="left:412.70px;top:158.60px;width:25.90px">0</span>
<span class="nm" style="left:450.40px;top:158.60px;width:24.40px">0</span>
<span class="nm" style="left:480.10px;top:158.60px;width:24.50px">0</span>
<span class="lb" style="left:353.00px;top:170.59px">0912</span>
<span class="lb" style="left:353.00px;top:182.68px">0913</span>
<span class="nm" style="left:383.00px;top:182.78px;width:24.60px">0</span>
<span class="nm" style="left:412.70px;top:182.78px;width:25.90px">0</span>
<span class="lb" style="left:353.00px;top:194.77px">0915</span>
<span class="nm" style="left:383.00px;top:194.87px;width:24.60px">1</span>
<span class="nm" style="left:412.70px;top:194.87px;width:25.90px">0,33</span>
<span class="lb" style="left:353.00px;top:206.86px">0916</span>
<span class="nm" style="left:383.00px;top:206.96px;width:24.60px">1</span>
<span class="nm" style="left:412.70px;top:206.96px;width:25.90px">0,33</span>
<span class="nm" style="left:450.40px;top:206.96px;width:24.40px">1</span>
<span class="nm" style="left:480.10px;top:206.96px;width:24.50px">0,5</span>
<span class="lb" style="left:353.00px;top:218.95px">0917</span>
<span class="nm rd" style="left:383.00px;top:219.05px;width:24.60px">7</span>
<span class="nm rd" style="left:412.70px;top:219.05px;width:25.90px">3,25</span>
<span class="nm" style="left:450.40px;top:219.05px;width:24.40px">4</span>
<span class="nm" style="left:480.10px;top:219.05px;width:24.50px">1,25</span>
<span class="lb" style="left:353.00px;top:231.04px">0918</span>
<span class="nm" style="left:383.00px;top:231.14px;width:24.60px">1</span>
<span class="nm" style="left:412.70px;top:231.14px;width:25.90px">0,33</span>
<span class="nm" style="left:450.40px;top:231.14px;width:24.40px">4</span>
<span class="nm" style="left:480.10px;top:231.14px;width:24.50px">1,25</span>
<span class="lb" style="left:353.00px;top:243.13px">0919</span>
<span class="nm" style="left:383.00px;top:243.23px;width:24.60px">1</span>
<span class="nm" style="left:412.70px;top:243.23px;width:25.90px">0,33</span>
<span class="nm" style="left:450.40px;top:243.23px;width:24.40px">4</span>
<span class="nm" style="left:480.10px;top:243.23px;width:24.50px">1,67</span>
<span class="lb" style="left:353.00px;top:255.22px">0920</span>
<span class="nm" style="left:383.00px;top:255.32px;width:24.60px">1</span>
<span class="nm" style="left:412.70px;top:255.32px;width:25.90px">0,33</span>
<span class="lb" style="left:353.00px;top:267.31px">0921</span>
<span class="nm" style="left:383.00px;top:267.41px;width:24.60px">4</span>
<span class="nm" style="left:412.70px;top:267.41px;width:25.90px">1,33</span>
<span class="nm" style="left:450.40px;top:267.41px;width:24.40px">0</span>
<span class="nm" style="left:480.10px;top:267.41px;width:24.50px">0</span>
<span class="lb" style="left:353.00px;top:279.40px">0922</span>
<span class="nm" style="left:383.00px;top:279.50px;width:24.60px">0</span>
<span class="nm" style="left:412.70px;top:279.50px;width:25.90px">0</span>
<span class="nm" style="left:450.40px;top:279.50px;width:24.40px">4</span>
<span class="nm" style="left:480.10px;top:279.50px;width:24.50px">1,25</span>
<span class="lb" style="left:353.00px;top:291.49px">0923</span>
<span class="nm" style="left:383.00px;top:291.59px;width:24.60px">4</span>
<span class="nm rd" style="left:412.70px;top:291.59px;width:25.90px">3,25</span>
<span class="nm" style="left:450.40px;top:291.59px;width:24.40px">5</span>
<span class="nm" style="left:480.10px;top:291.59px;width:24.50px">2,5</span>
<span class="lb" style="left:353.00px;top:303.58px">0924</span>
<span class="nm" style="left:383.00px;top:303.68px;width:24.60px">0</span>
<span class="nm" style="left:412.70px;top:303.68px;width:25.90px">0</span>
<span class="lb" style="left:353.00px;top:315.67px">0925</span>
<span class="nm" style="left:383.00px;top:315.77px;width:24.60px">0</span>
<span class="nm" style="left:412.70px;top:315.77px;width:25.90px">0</span>
<span class="nm" style="left:450.40px;top:315.77px;width:24.40px">0</span>
<span class="nm" style="left:480.10px;top:315.77px;width:24.50px">0</span>
<span class="lb" style="left:353.00px;top:327.76px">0926</span>
<span class="nm" style="left:383.00px;top:327.86px;width:24.60px">2</span>
<span class="nm" style="left:412.70px;top:327.86px;width:25.90px">1</span>
<span class="nm" style="left:450.40px;top:327.86px;width:24.40px">1</span>
<span class="nm" style="left:480.10px;top:327.86px;width:24.50px">0,33</span>
<span class="lb" style="left:353.00px;top:339.85px">0927</span>
<span class="nm" style="left:383.00px;top:339.95px;width:24.60px">3</span>
<span class="nm" style="left:412.70px;top:339.95px;width:25.90px">0,75</span>
<span class="nm" style="left:450.40px;top:339.95px;width:24.40px">2</span>
<span class="nm" style="left:480.10px;top:339.95px;width:24.50px">0,67</span>
<span class="lb" style="left:353.00px;top:351.94px">0928</span>
<span class="nm" style="left:383.00px;top:352.04px;width:24.60px">0</span>
<span class="nm" style="left:412.70px;top:352.04px;width:25.90px">0</span>
<span class="nm" style="left:450.40px;top:352.04px;width:24.40px">2</span>
<span class="nm" style="left:480.10px;top:352.04px;width:24.50px">0,67</span>
<span class="hd" style="left:570.40px;top:11.4px;width:20px;height:12px;line-height:12.8px">A</span>
<span class="hd" style="left:637.60px;top:11.4px;width:20px;height:12px;line-height:12.8px">B</span>
<span class="sh" style="left:549.80px;top:25.4px;height:13px;line-height:15.6px">Maximum</span>
<span class="sh" style="left:584.30px;top:25.4px;width:30px;height:13px;line-height:15.6px;text-align:center">Mean</span>
<span class="sh" style="left:616.30px;top:25.4px;height:13px;line-height:15.6px">Maximum</span>
<span class="sh" style="left:650.20px;top:25.4px;width:30px;height:13px;line-height:15.6px;text-align:center">Mean</span>
<span class="un" style="left:512.80px;top:20.5px;width:33.60px;height:14px;line-height:14px">U10</span>
<span class="lb" style="left:518.40px;top:37.60px">1007</span>
<span class="lb" style="left:518.40px;top:49.64px">1008</span>
<span class="nm" style="left:552.90px;top:49.74px;width:24.50px">0</span>
<span class="nm" style="left:582.50px;top:49.74px;width:25.50px">0</span>
<span class="lb" style="left:518.40px;top:61.68px">1009</span>
<span class="nm" style="left:552.90px;top:61.78px;width:24.50px">0</span>
<span class="nm" style="left:582.50px;top:61.78px;width:25.50px">0</span>
<span class="lb" style="left:518.40px;top:73.72px">1010</span>
<span class="nm" style="left:552.90px;top:73.82px;width:24.50px">0</span>
<span class="nm" style="left:582.50px;top:73.82px;width:25.50px">0</span>
<span class="nm" style="left:619.40px;top:73.82px;width:25.10px">0</span>
<span class="nm" style="left:649.80px;top:73.82px;width:24.60px">0</span>
<span class="lb" style="left:518.40px;top:85.76px">1011</span>
<span class="nm" style="left:619.40px;top:85.86px;width:25.10px">0</span>
<span class="nm" style="left:649.80px;top:85.86px;width:24.60px">0</span>
<span class="lb" style="left:518.40px;top:97.80px">1015</span>
<span class="nm" style="left:619.40px;top:97.90px;width:25.10px">2</span>
<span class="nm" style="left:649.80px;top:97.90px;width:24.60px">1</span>
<span class="lb" style="left:518.40px;top:109.84px">1016</span>
<span class="nm" style="left:552.90px;top:109.94px;width:24.50px">2</span>
<span class="nm" style="left:582.50px;top:109.94px;width:25.50px">2</span>
<span class="nm" style="left:619.40px;top:109.94px;width:25.10px">0</span>
<span class="nm" style="left:649.80px;top:109.94px;width:24.60px">0</span>
<span class="lb" style="left:518.40px;top:121.88px">1017</span>
<span class="nm" style="left:552.90px;top:121.98px;width:24.50px">0</span>
<span class="nm" style="left:582.50px;top:121.98px;width:25.50px">0</span>
<span class="nm" style="left:619.40px;top:121.98px;width:25.10px">0</span>
<span class="nm" style="left:649.80px;top:121.98px;width:24.60px">0</span>
<span class="lb" style="left:518.40px;top:133.92px">1018</span>
<span class="nm" style="left:552.90px;top:134.02px;width:24.50px">0</span>
<span class="nm" style="left:582.50px;top:134.02px;width:25.50px">0</span>
<span class="nm rd" style="left:619.40px;top:134.02px;width:25.10px">7</span>
<span class="nm" style="left:649.80px;top:134.02px;width:24.60px">2,25</span>
<span class="lb" style="left:518.40px;top:145.96px">1019</span>
<span class="nm" style="left:552.90px;top:146.06px;width:24.50px">0</span>
<span class="nm" style="left:582.50px;top:146.06px;width:25.50px">0</span>
<span class="nm" style="left:619.40px;top:146.06px;width:25.10px">2</span>
<span class="nm" style="left:649.80px;top:146.06px;width:24.60px">0,67</span>
<span class="lb" style="left:518.40px;top:158.00px">1020</span>
<span class="nm" style="left:619.40px;top:158.10px;width:25.10px">0</span>
<span class="nm" style="left:649.80px;top:158.10px;width:24.60px">0</span>
<span class="lb" style="left:518.40px;top:170.04px">1021</span>
<span class="nm" style="left:552.90px;top:170.14px;width:24.50px">0</span>
<span class="nm" style="left:582.50px;top:170.14px;width:25.50px">0</span>
<span class="nm" style="left:619.40px;top:170.14px;width:25.10px">0</span>
<span class="nm" style="left:649.80px;top:170.14px;width:24.60px">0</span>
<span class="lb" style="left:518.40px;top:182.08px">1022</span>
<span class="nm" style="left:552.90px;top:182.18px;width:24.50px">0</span>
<span class="nm" style="left:582.50px;top:182.18px;width:25.50px">0</span>
<span class="nm" style="left:619.40px;top:182.18px;width:25.10px">0</span>
<span class="nm" style="left:649.80px;top:182.18px;width:24.60px">0</span>
<span class="lb" style="left:518.40px;top:194.12px">1023</span>
<span class="nm" style="left:552.90px;top:194.22px;width:24.50px">0</span>
<span class="nm" style="left:582.50px;top:194.22px;width:25.50px">0</span>
<span class="nm" style="left:619.40px;top:194.22px;width:25.10px">0</span>
<span class="nm" style="left:649.80px;top:194.22px;width:24.60px">0</span>
<span class="lb" style="left:518.40px;top:206.16px">1024</span>
</div>
<svg width="700" height="449" viewBox="0 0 700 449">
<rect x="80.90" y="24.60" width="1.40" height="14.60" fill="#fff"/>
<rect x="114.10" y="24.60" width="1.70" height="14.60" fill="#fff"/>
<rect x="147.40" y="24.60" width="1.40" height="14.60" fill="#fff"/>
<rect x="244.50" y="24.60" width="1.40" height="14.60" fill="#fff"/>
<rect x="277.70" y="24.60" width="1.70" height="14.60" fill="#fff"/>
<rect x="311.00" y="24.60" width="1.40" height="14.60" fill="#fff"/>
<rect x="410.10" y="24.60" width="1.40" height="14.60" fill="#fff"/>
<rect x="443.30" y="24.60" width="1.70" height="14.60" fill="#fff"/>
<rect x="476.60" y="24.60" width="1.40" height="14.60" fill="#fff"/>
<rect x="580.10" y="24.60" width="1.40" height="14.60" fill="#fff"/>
<rect x="613.30" y="24.60" width="1.70" height="14.60" fill="#fff"/>
<rect x="646.60" y="24.60" width="1.40" height="14.60" fill="#fff"/>
<line x1="128.6" y1="363.5" x2="132.4" y2="245" stroke="#151515" stroke-width="1.1"/>
<polygon points="132.7,238.8 129.3,246.6 135.7,246.8" fill="#111"/>
<rect x="0" y="433.3" width="700" height="1.1" fill="#8a8a8a"/>
</svg>
<div id="cap"><p>When clicking on any pain value of a patient, a screen with all the pain records of the patient appears from the day of admission to date. These data are accompanied by tables and graphs that help assess whether the analgesia has been effective.</p></div>
<div id="lab"><b>Fig. 5.</b> Specific view.</div>
</body>
</html>
